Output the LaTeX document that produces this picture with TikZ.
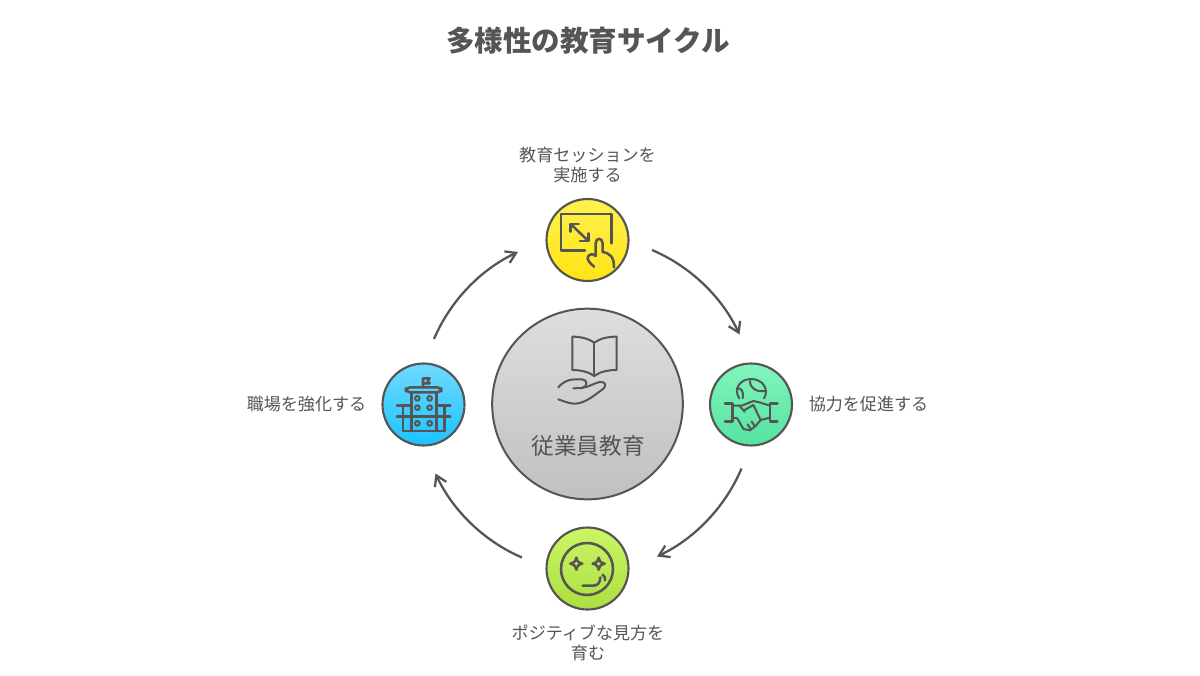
\documentclass[tikz,border=0pt]{standalone}
\usepackage{fontspec}
\setmainfont{Noto Sans CJK JP}
\usetikzlibrary{arrows.meta}
\definecolor{ink}{HTML}{555555}
\tikzset{
  px/.style={x=0.75pt,y=-0.75pt},
  hub/.style={circle,draw=ink,line width=1.6pt,minimum size=61.5pt,inner sep=0pt},
  core/.style={circle,draw=ink,line width=1.5pt,minimum size=143pt,inner sep=0pt,top color=gcoreT,bottom color=gcoreB},
  lbl/.style={text=ink,font=\fontsize{12.8pt}{15pt}\selectfont,align=center,inner sep=0pt},
  flow/.style={draw=ink,line width=1.7pt,-{Straight Barb[length=7.5pt,width=9.5pt,line width=1.7pt]}},
  icon/.style={draw=ink,line width=1.9pt,line cap=round,line join=round},
  iconthin/.style={draw=ink,line width=1.5pt,line cap=round,line join=round},
  zoomed/.style={scale=0.3333},
}
\definecolor{gcoreT}{HTML}{DEDEDE}\definecolor{gcoreB}{HTML}{C0C0C0}
\definecolor{yT}{HTML}{FFF14F}\definecolor{yB}{HTML}{FFE414}
\definecolor{mT}{HTML}{82F5BC}\definecolor{mB}{HTML}{55E3A2}
\definecolor{lT}{HTML}{CBF566}\definecolor{lB}{HTML}{ABDF40}
\definecolor{bT}{HTML}{70DAFF}\definecolor{bB}{HTML}{1CC2FF}
\begin{document}
\begin{tikzpicture}[px]
\useasboundingbox (0,0) rectangle (1200,675);
\fill[white] (0,0) rectangle (1200,675);
\node[text=ink,inner sep=0pt,font=\fontsize{21.4pt}{24pt}\selectfont\bfseries] (title) at (588,40.5) {多様性の教育サイクル};
\node[core] (center) at (587.5,404) {};
\node[hub,top color=yT,bottom color=yB] (top) at (587.5,240) {};
\node[hub,top color=mT,bottom color=mB] (right) at (751,404.5) {};
\node[hub,top color=lT,bottom color=lB] (bottom) at (587.5,568.5) {};
\node[hub,top color=bT,bottom color=bB] (left) at (423.5,404.5) {};
\node[text=ink,inner sep=0pt,font=\fontsize{17pt}{20pt}\selectfont] (ctext) at (588,445.5) {従業員教育};
\node[lbl] (ltop) at (587.5,165) {教育セッションを\\実施する};
\node[lbl,anchor=west] (lright) at (808.5,404) {協力を促進する};
\node[lbl] (lbottom) at (588,643) {ポジティブな見方を\\育む};
\node[lbl,anchor=east] (lleft) at (366.5,404) {職場を強化する};
% connectors
\coordinate (a1) at (652,250); \coordinate (a2) at (739.5,334.5);
\coordinate (b1) at (741.5,468.5); \coordinate (b2) at (657,556.5);
\coordinate (c1) at (522,557.5); \coordinate (c2) at (435.5,473.5);
\coordinate (d1) at (434,339); \coordinate (d2) at (518,252);
\draw[flow] (a1) to[bend left=21,looseness=0.87] (a2);
\draw[flow] (b1) to[bend left=21,looseness=0.87] (b2);
\draw[flow] (c1) to[bend left=21,looseness=0.87] (c2);
\draw[flow] (d1) to[bend left=21,looseness=0.87] (d2);
% top icon
\begin{scope}[shift={(530,190)},zoomed]
\draw[icon] (165,182) -- (93,182) -- (93,72) -- (245,72) -- (245,160);
\draw[icon] (122,102) -- (175,153);
\draw[icon] (122,125) -- (122,102) -- (146,102);
\draw[icon] (150,153) -- (175,153) -- (175,130);
\draw[icon] (192,230) .. controls (178,218) and (170,208) .. (174,200) .. controls (178,192) and (188,190) .. (197,198) -- (197,160) .. controls (197,142) and (218,142) .. (218,160) -- (218,186) .. controls (240,190) and (252,200) .. (252,232);
\end{scope}
% right icon
\begin{scope}[shift={(700,355)},zoomed]
\draw[iconthin] (118,130) .. controls (100,105) and (118,72) .. (153,72) .. controls (190,72) and (208,105) .. (192,130);
\draw[iconthin] (128,130) .. controls (132,110) and (125,98) .. (110,100);
\draw[iconthin] (150,78) .. controls (150,100) and (170,112) .. (195,108);
\draw[icon] (75,145) -- (97,145) -- (97,200) -- (75,200);
\draw[icon] (232,145) -- (210,145) -- (210,200) -- (232,200);
\draw[iconthin] (97,152) -- (125,152) -- (160,138) -- (178,142) -- (210,152);
\draw[iconthin] (97,188) -- (112,190) -- (130,222) -- (150,226) -- (168,212) -- (182,195) -- (210,188);
\draw[iconthin] (134,165) -- (160,150) -- (182,195);
\draw[iconthin] (118,152) -- (134,170);
\draw[iconthin] (143,208) -- (152,222);
\draw[iconthin] (155,200) -- (165,214);
\end{scope}
% bottom icon
\begin{scope}[shift={(537,520)},zoomed]
\draw[icon] (150,147) circle[radius=78];
\draw[icon] (118,113) .. controls (121,125) and (124,128) .. (136,131) .. controls (124,134) and (121,137) .. (118,149) .. controls (115,137) and (112,134) .. (100,131) .. controls (112,128) and (115,125) .. (118,113) -- cycle;
\draw[icon] (185,113) .. controls (188,125) and (191,128) .. (203,131) .. controls (191,134) and (188,137) .. (185,149) .. controls (182,137) and (179,134) .. (167,131) .. controls (179,128) and (182,125) .. (185,113) -- cycle;
\draw[icon] (137,197) -- (168,197) .. controls (182,197) and (190,188) .. (190,172);
\draw[icon] (197,164) .. controls (203,168) and (205,174) .. (204,181);
\end{scope}
% left icon
\begin{scope}[shift={(373,355)},zoomed]
\draw[icon] (150,95) -- (150,70) -- (170,70) -- (164,78) -- (170,85) -- (150,85);
\draw[icon,rounded corners=3pt] (99,97) rectangle (205,112);
\draw[icon] (115,112) -- (115,228);
\draw[icon] (190,112) -- (190,228);
\draw[icon] (72,152) -- (115,152);
\draw[icon] (190,152) -- (232,152);
\draw[icon] (72,185) -- (232,185);
\draw[icon] (90,228) -- (215,228);
\draw[icon] (90,152) -- (90,228);
\draw[icon] (215,152) -- (215,228);
\foreach \wx/\wy in {133/130,170/130,133/158,170/158,133/205,170/205}
  \draw[iconthin] (\wx,\wy) circle[radius=7];
\end{scope}
% centre icon
\begin{scope}[shift={(485,300)},zoomed]
\draw[iconthin] (328,128) .. controls (310,115) and (285,110) .. (262,110) -- (262,210) .. controls (285,210) and (310,215) .. (328,228) .. controls (345,215) and (370,210) .. (395,210) -- (395,110) .. controls (370,110) and (345,115) .. (328,128) -- cycle;
\draw[iconthin] (328,128) -- (328,228);
\draw[iconthin] (220,262) .. controls (235,245) and (250,238) .. (272,238) -- (292,238) .. controls (310,240) and (308,262) .. (290,264) -- (265,265);
\draw[iconthin] (290,264) .. controls (310,262) and (330,248) .. (345,246) .. controls (362,244) and (368,258) .. (350,270) .. controls (325,288) and (300,310) .. (270,311) .. controls (255,312) and (235,303) .. (220,298);
\end{scope}
\end{tikzpicture}
\end{document}
